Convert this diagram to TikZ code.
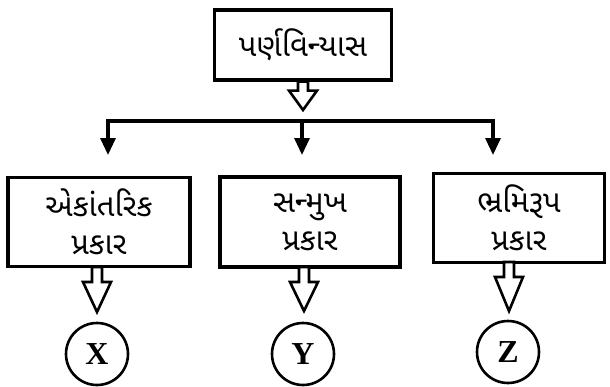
\documentclass[tikz,border=0pt]{standalone}
\usepackage{fontspec}
\usetikzlibrary{arrows.meta,calc}
\newfontfamily\guj[Script=Gujarati]{Noto Sans Gujarati UI}
\setmainfont{Liberation Serif}
\tikzset{
  box/.style={draw, line width=3.2pt, inner sep=0pt, align=center, font=\guj\fontsize{31}{38}\selectfont},
  circ/.style={draw, circle, line width=2.6pt, minimum size=62pt, inner sep=0pt, font=\bfseries\fontsize{32}{32}\selectfont},
  holl/.style={draw, line width=2.6pt, fill=white, line join=miter},
  bar/.style={line width=3.2pt},
  down/.style={line width=3.2pt, -{Triangle[length=17pt,width=15pt]}}
}
\newcommand{\holarrow}[3]{% from, tip, stem length
  \path[holl] let \p1=(#1), \p2=(#2) in
    (\x1-5pt,\y1) -- (\x1-5pt,\y1-#3) -- (\x1-14pt,\y1-#3) -- (\x1,\y2)
    -- (\x1+14pt,\y1-#3) -- (\x1+5pt,\y1-#3) -- (\x1+5pt,\y1) -- cycle;}
\begin{document}
\begin{tikzpicture}[x=1pt,y=-1pt]
\useasboundingbox (0,0) rectangle (610,386);
% top box
\node[box, minimum width=177pt, minimum height=70pt] (top) at (303,45) {પર્ણવિન્યાસ};
% bottom boxes
\node[box, minimum width=182pt, minimum height=89pt] (a) at (99,222) {એકાંતરિક\\પ્રકાર};
\node[box, minimum width=180pt, minimum height=90pt] (b) at (310,222) {સન્મુખ\\પ્રકાર};
\node[box, minimum width=171pt, minimum height=89pt] (c) at (519,218) {ભ્રમિરૂપ\\પ્રકાર};
% circles
\node[circ] (x) at (97,354) {X};
\node[circ] (y) at (303,354) {Y};
\node[circ] (z) at (508,352) {Z};
% branching bar
\coordinate (bl) at (108,121);
\coordinate (bm) at (302,121);
\coordinate (br) at (493,121);
\coordinate (tl) at (108,155);
\coordinate (tm) at (302,155);
\coordinate (tr) at (493,155);
\draw[bar] (bl) -- (br);
\draw[down] ([yshift=1.6pt]bl) -- (tl);
\draw[down] (bm) -- (tm);
\draw[down] ([yshift=1.6pt]br) -- (tr);
% hollow arrows
\coordinate (ttop) at (302,110);
\holarrow{top.south}{ttop}{9pt}
\coordinate (tx) at (97,312);
\coordinate (ax) at (97,267);
\holarrow{ax}{tx}{15pt}
\coordinate (ty) at (304,311);
\coordinate (ay) at (304,267);
\holarrow{ay}{ty}{15pt}
\coordinate (tz) at (509,311);
\coordinate (az) at (509,262);
\holarrow{az}{tz}{15pt}
\end{tikzpicture}
\end{document}
